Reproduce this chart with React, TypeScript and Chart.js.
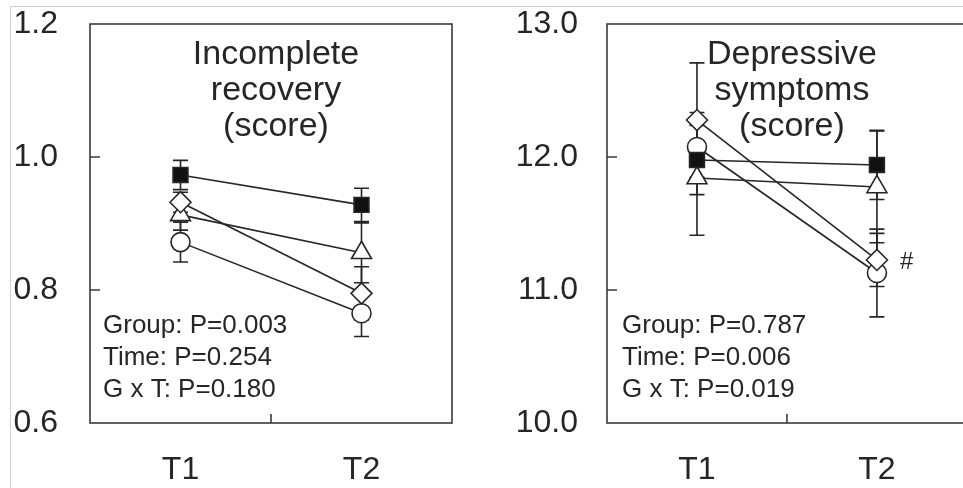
import React, { useEffect, useRef } from 'react';
import { Chart, registerables } from 'chart.js';

Chart.register(...registerables);

// ---------- data ----------
const timePoints = ['T1', 'T2'];

// Panel A: Incomplete recovery (score)
const recoveryYTicks = [0.6, 0.8, 1.0, 1.2];
const recoverySquare = [0.973, 0.928];
const recoverySquareErr = [0.022, 0.025];
const recoveryDiamond = [0.932, 0.795];
const recoveryDiamondErr = [0.015, 0.04];
const recoveryTriangle = [0.913, 0.856];
const recoveryTriangleErr = [0.023, 0.045];
const recoveryCircle = [0.872, 0.765];
const recoveryCircleErr = [0.03, 0.035];
const recoveryTitle = ['Incomplete', 'recovery', '(score)'];
const recoveryStats = ['Group: P=0.003', 'Time: P=0.254', 'G x T: P=0.180'];

// Panel B: Depressive symptoms (score)
const depressYTicks = [10, 11, 12, 13];
const depressSquare = [11.977, 11.94];
const depressSquareErr = [0.26, 0.26];
const depressDiamond = [12.278, 11.226];
const depressDiamondErr = [0.43, 0.2];
const depressTriangle = [11.842, 11.775];
const depressTriangleErr = [0.43, 0.42];
const depressCircle = [12.075, 11.128];
const depressCircleErr = [0.26, 0.33];
const depressTitle = ['Depressive', 'symptoms', '(score)'];
const depressStats = ['Group: P=0.787', 'Time: P=0.006', 'G x T: P=0.019'];
const depressMarkNote = '#';

// ---------- styling ----------
const INK = '#262626';
const FRAME = '#3a3a3a';
const FAMILY = "'Liberation Sans', Arial, Helvetica, sans-serif";

type Series = {
  values: number[];
  errors: number[];
  style: 'rect' | 'rectRot' | 'triangle' | 'circle';
  radius: number;
  fill: string;
};

type PanelSpec = {
  series: Series[];
  yTicks: number[];
  title: string[];
  stats: string[];
  axisWidth: number;
  tickPad: number;
  padRight: number;
  statsInset: number;
  note?: { text: string; seriesIndex: number; pointIndex: number };
};

function buildSeries(sq: number[], sqE: number[], di: number[], diE: number[], tr: number[], trE: number[], ci: number[], ciE: number[]): Series[] {
  return [
    { values: sq, errors: sqE, style: 'rect', radius: 10.5, fill: '#111111' },
    { values: di, errors: diE, style: 'rectRot', radius: 10.5, fill: '#ffffff' },
    { values: tr, errors: trE, style: 'triangle', radius: 11.5, fill: '#ffffff' },
    { values: ci, errors: ciE, style: 'circle', radius: 9.5, fill: '#ffffff' },
  ];
}

const recoverySpec: PanelSpec = {
  series: buildSeries(recoverySquare, recoverySquareErr, recoveryDiamond, recoveryDiamondErr, recoveryTriangle, recoveryTriangleErr, recoveryCircle, recoveryCircleErr),
  yTicks: recoveryYTicks,
  title: recoveryTitle,
  stats: recoveryStats,
  axisWidth: 90,
  tickPad: 32,
  padRight: 28,
  statsInset: 13,
};

const depressSpec: PanelSpec = {
  series: buildSeries(depressSquare, depressSquareErr, depressDiamond, depressDiamondErr, depressTriangle, depressTriangleErr, depressCircle, depressCircleErr),
  yTicks: depressYTicks,
  title: depressTitle,
  stats: depressStats,
  axisWidth: 127,
  tickPad: 29,
  padRight: 7,
  statsInset: 15,
  note: { text: depressMarkNote, seriesIndex: 1, pointIndex: 1 },
};

function decorPlugin(spec: PanelSpec) {
  return {
    id: 'panelDecor',
    beforeDatasetsDraw(chart: any) {
      const { ctx, scales } = chart;
      const x = scales.x;
      const y = scales.y;
      ctx.save();
      ctx.strokeStyle = INK;
      ctx.lineWidth = 1.6;
      spec.series.forEach((s) => {
        s.values.forEach((v, i) => {
          const px = x.getPixelForValue(i);
          const top = y.getPixelForValue(v + s.errors[i]);
          const bot = y.getPixelForValue(v - s.errors[i]);
          ctx.beginPath();
          ctx.moveTo(px, top);
          ctx.lineTo(px, bot);
          ctx.moveTo(px - 7.5, top);
          ctx.lineTo(px + 7.5, top);
          ctx.moveTo(px - 7.5, bot);
          ctx.lineTo(px + 7.5, bot);
          ctx.stroke();
        });
      });
      ctx.restore();
    },
    afterDraw(chart: any) {
      const { ctx, chartArea: a, scales } = chart;
      const x = scales.x;
      const y = scales.y;
      ctx.save();
      // plot frame
      ctx.strokeStyle = FRAME;
      ctx.lineWidth = 1.6;
      ctx.strokeRect(a.left, a.top, a.right - a.left, a.bottom - a.top);
      // inward y ticks
      ctx.beginPath();
      spec.yTicks.forEach((t) => {
        const py = y.getPixelForValue(t);
        if (Math.abs(py - a.top) < 2 || Math.abs(py - a.bottom) < 2) return;
        ctx.moveTo(a.left, py);
        ctx.lineTo(a.left + 10, py);
      });
      // inward x tick between categories
      const mid = (x.getPixelForValue(0) + x.getPixelForValue(1)) / 2;
      ctx.moveTo(mid, a.bottom);
      ctx.lineTo(mid, a.bottom - 9);
      ctx.stroke();

      // title
      ctx.fillStyle = INK;
      ctx.textAlign = 'center';
      ctx.textBaseline = 'alphabetic';
      ctx.font = `34px ${FAMILY}`;
      const cx = (a.left + a.right) / 2 + 5;
      spec.title.forEach((line, i) => {
        ctx.fillText(line, cx, a.top + 40 + i * 36);
      });

      // statistics
      ctx.textAlign = 'left';
      ctx.font = `26px ${FAMILY}`;
      spec.stats.forEach((line, i) => {
        ctx.fillText(line, a.left + spec.statsInset, a.top + 309 + i * 32);
      });

      // significance mark
      if (spec.note) {
        const s = spec.series[spec.note.seriesIndex];
        const px = x.getPixelForValue(spec.note.pointIndex);
        const py = y.getPixelForValue(s.values[spec.note.pointIndex]);
        ctx.font = `24px ${FAMILY}`;
        ctx.textBaseline = 'middle';
        ctx.fillText(spec.note.text, px + 23, py + 2);
      }
      ctx.restore();
    },
  };
}

function makeConfig(spec: PanelSpec): any {
  const lineSets = spec.series.map((s) => ({
    data: s.values,
    showLine: true,
    borderColor: INK,
    borderWidth: 1.6,
    pointRadius: 0,
    fill: false,
    order: 2,
  }));
  const pointSets = spec.series.map((s) => ({
    data: s.values,
    showLine: false,
    pointStyle: s.style,
    pointRadius: s.radius,
    pointBackgroundColor: s.fill,
    pointBorderColor: INK,
    pointBorderWidth: 1.6,
    order: 1,
  }));
  const tickFont = { family: FAMILY, size: 32 };
  return {
    type: 'line',
    data: { labels: timePoints, datasets: [...lineSets, ...pointSets] },
    options: {
      animation: false,
      responsive: true,
      maintainAspectRatio: false,
      events: [],
      layout: { padding: { top: 24, right: spec.padRight, bottom: 0, left: 0 } },
      plugins: { legend: { display: false }, tooltip: { enabled: false }, title: { display: false } },
      scales: {
        x: {
          type: 'category',
          offset: true,
          grid: { display: false, drawTicks: false },
          border: { display: false },
          ticks: { padding: 28, color: INK, font: tickFont },
          afterFit(s: any) {
            s.height = 65;
            s.paddingLeft = 0;
            s.paddingRight = 0;
          },
        },
        y: {
          type: 'linear',
          min: spec.yTicks[0],
          max: spec.yTicks[spec.yTicks.length - 1],
          grid: { display: false, drawTicks: false },
          border: { display: false },
          ticks: {
            padding: spec.tickPad,
            color: INK,
            font: tickFont,
            callback: (v: any) => Number(v).toFixed(1),
          },
          afterBuildTicks(s: any) {
            s.ticks = spec.yTicks.map((value) => ({ value }));
          },
          afterFit(s: any) {
            s.width = spec.axisWidth;
            s.paddingTop = 0;
            s.paddingBottom = 0;
          },
        },
      },
    },
    plugins: [decorPlugin(spec)],
  };
}

function Panel({ spec, left, width }: { spec: PanelSpec; left: number; width: number }) {
  const ref = useRef<HTMLCanvasElement | null>(null);
  useEffect(() => {
    if (!ref.current) return;
    const chart = new Chart(ref.current, makeConfig(spec));
    return () => chart.destroy();
  }, [spec]);
  return (
    <div style={{ position: 'absolute', left, top: 0, width, height: 488 }}>
      <canvas ref={ref} />
    </div>
  );
}

export default function App() {
  return (
    <>
      <style>{`html,body{margin:0;padding:0;overflow:hidden;background:#fff;}`}</style>
      <div style={{ position: 'relative', width: 963, height: 488, overflow: 'hidden', background: '#fff' }}>
        <div
          style={{
            position: 'absolute',
            left: 10,
            top: 6,
            width: 960,
            height: 490,
            borderTop: '1px solid #cfcfcf',
            borderLeft: '1px solid #cfcfcf',
          }}
        />
        <Panel spec={recoverySpec} left={0} width={480} />
        <Panel spec={depressSpec} left={480} width={500} />
      </div>
    </>
  );
}
